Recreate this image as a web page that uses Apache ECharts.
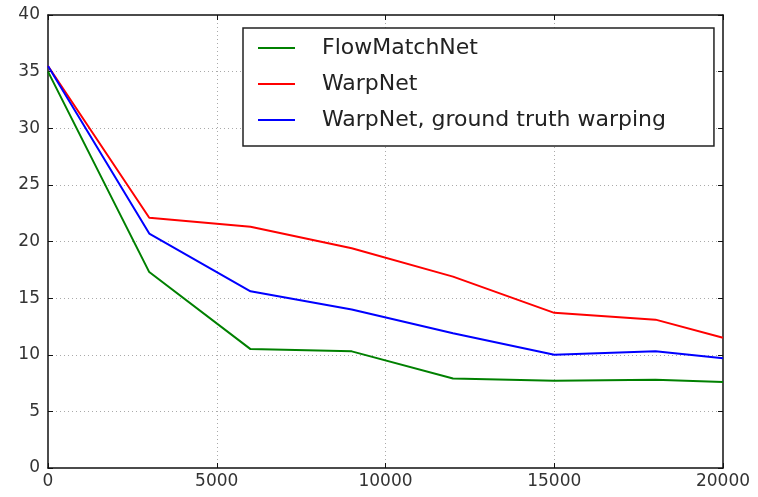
<!DOCTYPE html>
<html>
<head>
<meta charset="utf-8">
<script src="https://cdn.jsdelivr.net/npm/echarts@6/dist/echarts.min.js"></script>
<style>
  html, body { margin: 0; padding: 0; background: #fff; }
  #chart { width: 758px; height: 497px; }
</style>
</head>
<body>
<div id="chart"></div>
<script>
  // iterations at which each run was measured
  const steps = [0, 3000, 6000, 9000, 12000, 15000, 18000, 20000]
  const flowMatchNet = [35.0, 17.3, 10.5, 10.3, 7.9, 7.7, 7.8, 7.6]
  const warpNet = [35.5, 22.1, 21.3, 19.4, 16.9, 13.7, 13.1, 11.5]
  const warpNetGT = [35.5, 20.7, 15.6, 14.0, 11.9, 10.0, 10.3, 9.7]
  const seriesNames = ['FlowMatchNet', 'WarpNet', 'WarpNet, ground truth warping']

  const pairs = (ys) => steps.map((x, i) => [x, ys[i]])

  const chart = echarts.init(document.getElementById('chart'))
  const font = 'DejaVu Sans'
  const frame = { show: true, onZero: false, lineStyle: { color: '#111', width: 1.5 } }
  const ticks = { show: true, inside: true, length: 5, lineStyle: { color: '#111' } }
  const gridLine = {
    show: true, showMinLine: false, showMaxLine: false,
    lineStyle: { color: '#aaa', type: [1, 3], width: 1 }
  }
  const mkLine = (name, data, color) => ({
    name: name,
    type: 'line',
    data: pairs(data),
    showSymbol: false,
    symbol: 'none',
    lineStyle: { color: color, width: 2 },
    itemStyle: { color: color }
  })

  chart.setOption({
    animation: false,
    grid: { left: 48, right: 35, top: 15, bottom: 29 },
    legend: {
      orient: 'vertical',
      left: 243,
      top: 28,
      data: seriesNames,
      icon: 'rect',
      itemWidth: 37,
      itemHeight: 2,
      itemGap: 14,
      padding: [9, 48, 15, 15],
      borderColor: '#222',
      borderWidth: 1.5,
      backgroundColor: '#fff',
      textStyle: { fontFamily: font, fontSize: 22, lineHeight: 22, color: '#222', padding: [0, 0, 0, 22] }
    },
    xAxis: [{
      type: 'value', min: 0, max: 20000, interval: 5000,
      axisLine: frame, axisTick: ticks,
      axisLabel: { fontFamily: font, fontSize: 17, color: '#333', margin: 5, formatter: (v) => String(v) },
      splitLine: gridLine
    }, {
      type: 'value', min: 0, max: 20000, interval: 5000, position: 'top',
      axisLine: frame, axisTick: ticks,
      axisLabel: { show: false }, splitLine: { show: false }
    }],
    yAxis: [{
      type: 'value', min: 0, max: 40, interval: 5,
      axisLine: frame, axisTick: ticks,
      axisLabel: { fontFamily: font, fontSize: 17, color: '#333', margin: 8 },
      splitLine: gridLine
    }, {
      type: 'value', min: 0, max: 40, interval: 5, position: 'right',
      axisLine: frame, axisTick: ticks,
      axisLabel: { show: false }, splitLine: { show: false }
    }],
    series: [
      mkLine(seriesNames[0], flowMatchNet, '#008000'),
      mkLine(seriesNames[1], warpNet, '#ff0000'),
      mkLine(seriesNames[2], warpNetGT, '#0000ff')
    ]
  })
</script>
</body>
</html>
